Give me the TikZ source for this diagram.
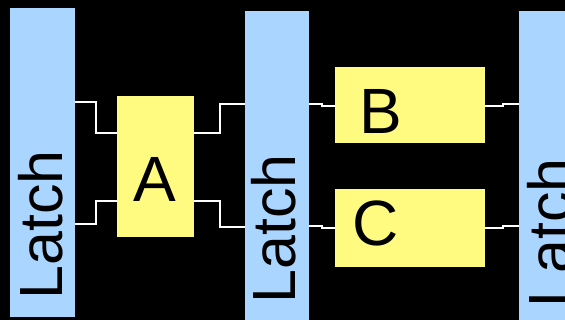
\documentclass[tikz,border=0pt]{standalone}
\usepackage{fontspec}
\setmainfont{Liberation Sans}
\definecolor{latchblue}{HTML}{AAD5FF}
\definecolor{logicyellow}{HTML}{FFFA80}
\begin{document}
\begin{tikzpicture}[x=1pt,y=-1pt,
  latchbox/.style={fill=latchblue,draw=none},
  logicbox/.style={fill=logicyellow,draw=none},
  latchlabel/.style={rotate=90,anchor=base west,inner sep=0pt,font=\fontsize{61}{61}\selectfont},
  logiclabel/.style={anchor=base west,inner sep=0pt,font=\fontsize{64}{64}\selectfont},
  wire/.style={draw=white,line width=1.5pt}]
\useasboundingbox (0,0) rectangle (565,320);
\fill[black] (0,0) rectangle (565,320);
\clip (0,0) rectangle (565,320);

% pipeline registers
\path[latchbox] (10,8) rectangle (75,317);
\path[latchbox] (245,11) rectangle (309,330);
\path[latchbox] (519,11) rectangle (584,330);
\coordinate (l1) at (75,160);
\coordinate (l2w) at (245,160);
\coordinate (l2e) at (309,160);
\coordinate (l3) at (519,160);
\node[latchlabel] (t1) at (62,299.5) {Latch};
\node[latchlabel] (t2) at (295,303.5) {Latch};
\node[latchlabel] (t3) at (571,307.5) {Latch};

% combinational logic blocks
\node[logicbox,minimum width=77pt,minimum height=141pt,inner sep=0pt] (A) at (155.5,166.5) {};
\node[logicbox,minimum width=150pt,minimum height=76pt,inner sep=0pt] (B) at (410,105) {};
\node[logicbox,minimum width=150pt,minimum height=78pt,inner sep=0pt] (C) at (410,228) {};
\node[logiclabel] (tA) at (133,202) {A};
\node[logiclabel] (tB) at (359,134) {B};
\node[logiclabel] (tC) at (352,246) {C};

% wiring
\draw[wire] (l1 |- 0,102) -- (96,102) -- (96,133) -- (A.west |- 0,133);
\draw[wire] (l1 |- 0,224) -- (96,224) -- (96,201) -- (A.west |- 0,201);
\draw[wire] (A.east |- 0,133) -- (220,133) -- (220,104) -- (l2w |- 0,104);
\draw[wire] (A.east |- 0,201) -- (220,201) -- (220,227) -- (l2w |- 0,227);
\draw[wire] (l2e |- 0,104) -- (322,104) -- (322,106) -- (B.west |- 0,106);
\draw[wire] (B.east |- 0,106) -- (503,106) -- (503,104) -- (l3 |- 0,104);
\draw[wire] (l2e |- 0,226) -- (322,226) -- (322,228) -- (C.west |- 0,228);
\draw[wire] (C.east |- 0,228) -- (503,228) -- (503,226) -- (l3 |- 0,226);
\end{tikzpicture}
\end{document}
